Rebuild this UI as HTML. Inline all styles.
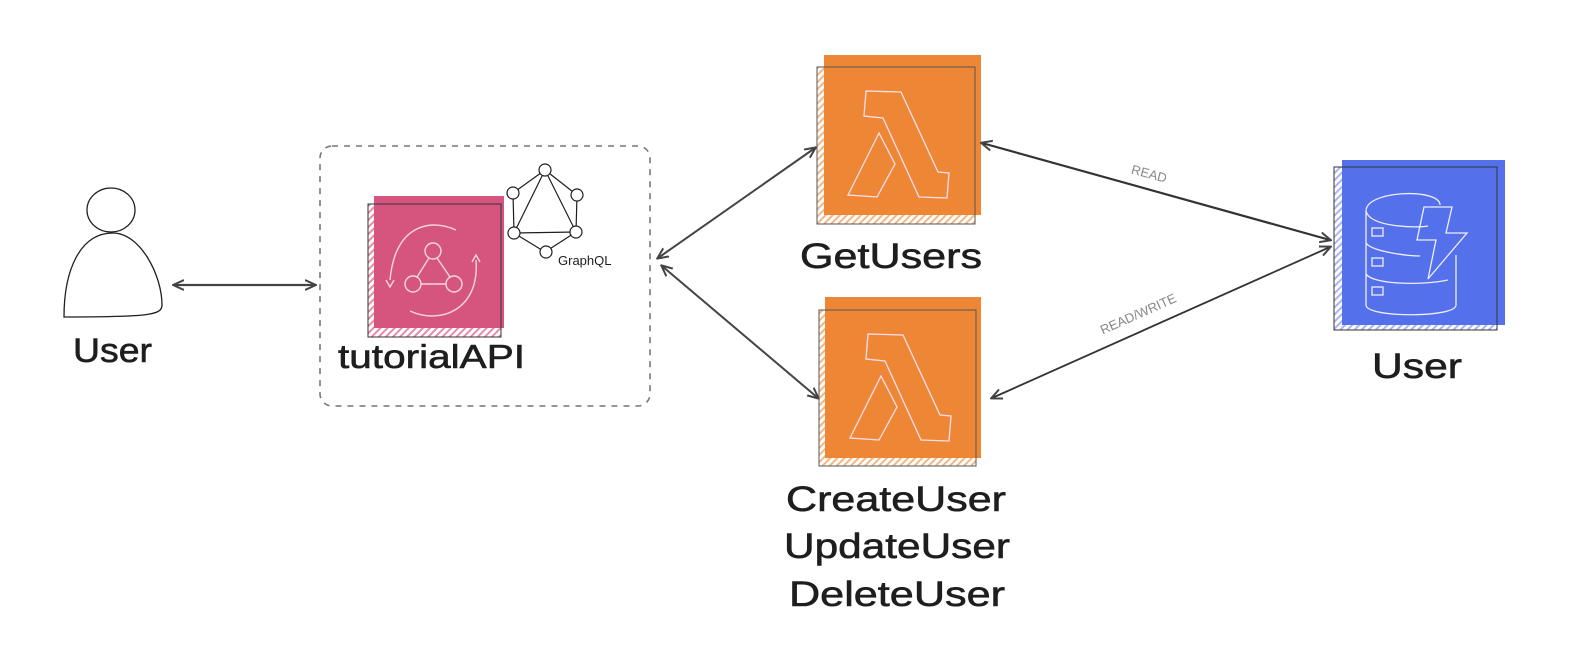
<!DOCTYPE html>
<html><head><meta charset="utf-8"><style>
html,body{margin:0;padding:0;background:#fff;}
svg{display:block;}
.t{font-family:"Liberation Sans",sans-serif;fill:#1e1e1e;stroke:#1e1e1e;stroke-width:0.6;}
</style></head><body>
<svg width="1572" height="670" viewBox="0 0 1572 670" xmlns="http://www.w3.org/2000/svg">
<defs>
<marker id="ah" markerWidth="12" markerHeight="12" refX="10" refY="6" orient="auto-start-reverse" markerUnits="userSpaceOnUse">
<path d="M0,1 L11,6 L0,11" fill="none" stroke="#444" stroke-width="2"/>
</marker>
<pattern id="hp" width="5" height="5" patternUnits="userSpaceOnUse" patternTransform="rotate(45)"><rect width="2" height="5" fill="#e98aa8"/></pattern>
<pattern id="ho" width="5" height="5" patternUnits="userSpaceOnUse" patternTransform="rotate(45)"><rect width="2" height="5" fill="#f3b784"/></pattern>
<pattern id="hb" width="5" height="5" patternUnits="userSpaceOnUse" patternTransform="rotate(45)"><rect width="2" height="5" fill="#a9b5f3"/></pattern>
</defs>

<ellipse cx="111" cy="210" rx="24" ry="22" fill="none" stroke="#1e1e1e" stroke-width="1.3"/>
<path d="M64,317 C64,270 80,233 113,233 C140,233 162,275 162,305 C162,315 150,317 64,317 Z" fill="none" stroke="#1e1e1e" stroke-width="1.3"/>
<text class="t" x="73" y="362" font-size="34" textLength="79" lengthAdjust="spacingAndGlyphs">User</text>

<line x1="174" y1="285" x2="315" y2="285" stroke="#444" stroke-width="2.2" marker-start="url(#ah)" marker-end="url(#ah)"/>

<rect x="320" y="146" width="330" height="260" rx="12" fill="none" stroke="#777" stroke-width="1.6" stroke-dasharray="6 6"/>

<rect x="368" y="204" width="133" height="133" fill="url(#hp)"/>
<rect x="374" y="196" width="130" height="132" fill="#d6557f"/>
<rect x="368" y="204" width="133" height="133" fill="none" stroke="#333" stroke-width="1"/>
<g fill="none" stroke="#f5d5df" stroke-width="1.4">
<circle cx="433" cy="251" r="8"/><circle cx="413" cy="284" r="8"/><circle cx="454" cy="284" r="8"/>
<line x1="429" y1="258" x2="417" y2="277"/><line x1="437" y1="258" x2="450" y2="277"/><line x1="421" y1="284" x2="446" y2="284"/>
<path d="M456,230 C430,218 395,225 390,280"/><path d="M386,280 l4,7 l4,-7"/>
<path d="M410,311 C440,325 480,310 476,260"/><path d="M472,262 l4,-7 l4,7"/>
</g>
<text class="t" x="338" y="368" font-size="33" textLength="187" lengthAdjust="spacingAndGlyphs">tutorialAPI</text>

<g fill="#fff" stroke="#1e1e1e" stroke-width="1.2">
<line x1="545" y1="170" x2="514" y2="233"/><line x1="545" y1="170" x2="576" y2="232"/><line x1="514" y1="233" x2="576" y2="232"/>
<line x1="545" y1="170" x2="513" y2="193"/><line x1="545" y1="170" x2="577" y2="195"/>
<line x1="513" y1="193" x2="514" y2="233"/><line x1="577" y1="195" x2="576" y2="232"/>
<line x1="514" y1="233" x2="545" y2="252"/><line x1="576" y1="232" x2="545" y2="252"/>
<circle cx="545" cy="170" r="6"/><circle cx="513" cy="193" r="6"/><circle cx="577" cy="195" r="6"/>
<circle cx="514" cy="233" r="6"/><circle cx="576" cy="232" r="6"/><circle cx="546" cy="252" r="6"/>
</g>
<text x="558" y="265" font-size="13" font-family="Liberation Sans,sans-serif" fill="#1e1e1e">GraphQL</text>

<line x1="658" y1="258" x2="815" y2="148" stroke="#444" stroke-width="2" marker-start="url(#ah)" marker-end="url(#ah)"/>
<line x1="662" y1="266" x2="818" y2="398" stroke="#444" stroke-width="2" marker-start="url(#ah)" marker-end="url(#ah)"/>

<rect x="817" y="67" width="158" height="157" fill="url(#ho)"/>
<rect x="824" y="55" width="157" height="160" fill="#ee8735"/>
<rect x="817" y="67" width="158" height="157" fill="none" stroke="#555" stroke-width="1"/>
<path d="M866,91 L901,92 L938,172 L949,173 L947,198 L919,197 L883,118 L864,116 Z M879,133 L895,164 L877,197 L848,195 Z" fill="none" stroke="#fde" stroke-width="1.3"/>
<text class="t" x="800" y="268" font-size="35" textLength="182" lengthAdjust="spacingAndGlyphs">GetUsers</text>

<rect x="819" y="310" width="157" height="156" fill="url(#ho)"/>
<rect x="825" y="297" width="156" height="161" fill="#ee8735"/>
<rect x="819" y="310" width="157" height="156" fill="none" stroke="#555" stroke-width="1"/>
<path d="M868,334 L903,335 L940,415 L951,416 L949,441 L921,440 L885,361 L866,359 Z M881,376 L897,407 L879,440 L850,438 Z" fill="none" stroke="#fde" stroke-width="1.3"/>
<text class="t" x="786" y="511" font-size="35" textLength="220" lengthAdjust="spacingAndGlyphs">CreateUser</text>
<text class="t" x="784" y="558" font-size="35" textLength="226" lengthAdjust="spacingAndGlyphs">UpdateUser</text>
<text class="t" x="789" y="606" font-size="35" textLength="216" lengthAdjust="spacingAndGlyphs">DeleteUser</text>

<line x1="982" y1="143" x2="1330" y2="240" stroke="#333" stroke-width="2.2" marker-start="url(#ah)" marker-end="url(#ah)"/>
<line x1="992" y1="398" x2="1330" y2="247" stroke="#333" stroke-width="1.8" marker-start="url(#ah)" marker-end="url(#ah)"/>
<text x="1148" y="178" font-size="13" fill="#888" font-family="Liberation Sans,sans-serif" text-anchor="middle" transform="rotate(15 1148 178)">READ</text>
<text x="1140" y="318" font-size="13" fill="#888" font-family="Liberation Sans,sans-serif" text-anchor="middle" transform="rotate(-24 1140 318)">READ/WRITE</text>

<rect x="1334" y="167" width="163" height="163" fill="url(#hb)"/>
<rect x="1342" y="160" width="163" height="165" fill="#5470ea"/>
<rect x="1334" y="167" width="163" height="163" fill="none" stroke="#333" stroke-width="1"/>
<g fill="none" stroke="#eef" stroke-width="1.3">
<path d="M1366,211 C1366,190 1440,188 1440,205"/>
<path d="M1366,211 L1366,305 C1366,318 1456,318 1456,305 L1456,255"/>
<path d="M1366,211 C1370,228 1420,228 1428,226"/>
<path d="M1366,243 C1372,252 1410,256 1420,256"/>
<path d="M1366,274 C1372,284 1420,286 1448,280"/>
<rect x="1372" y="228" width="11" height="8"/><rect x="1372" y="258" width="11" height="8"/><rect x="1372" y="287" width="11" height="8"/>
<path d="M1424,207 L1452,207 L1446,233 L1467,233 L1428,279 L1436,240 L1417,240 Z"/>
</g>
<text class="t" x="1372" y="378" font-size="35" textLength="90" lengthAdjust="spacingAndGlyphs">User</text>
</svg>
</body></html>
